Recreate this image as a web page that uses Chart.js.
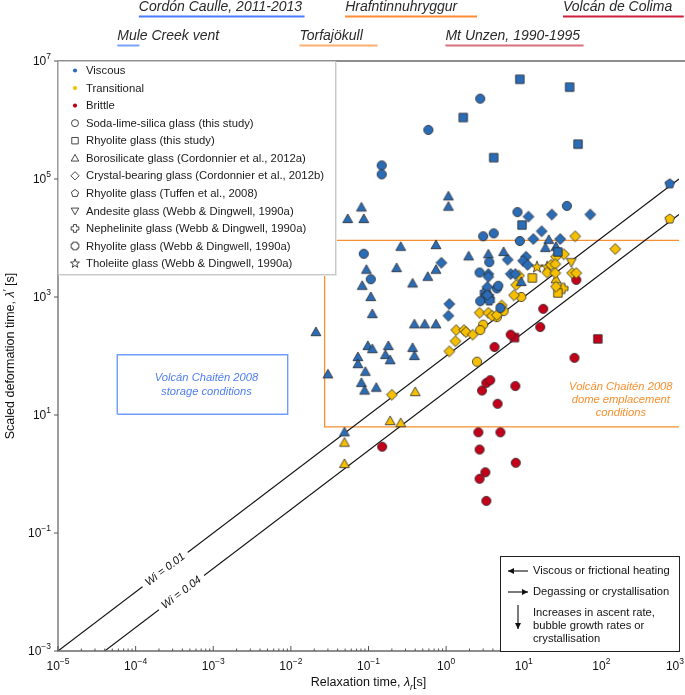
<!DOCTYPE html>
<html>
<head>
<meta charset="utf-8">
<script src="https://cdn.jsdelivr.net/npm/chart.js@4.4.0/dist/chart.umd.min.js"></script>
<style>
  body { margin: 0; background: #fff; }
  canvas { display: block; }
</style>
</head>
<body>
<canvas id="wiChart" width="685" height="695"></canvas>
<script>
// --- DATI (lambda_r [s], lambda' [s]) ---
const xTicks = [1e-5, 1e-4, 1e-3, 1e-2, 1e-1, 1, 10, 100, 1000];
const yTicks = [1e-3, 1e-1, 1e1, 1e3, 1e5, 1e7];

const viscousCircles = [[2.75,2.3e6],[0.59,6.8e5],[0.148,1.7e5],[0.148,1.2e5],[8.3,2.75e4],[36,3.5e4],[3.0,1.07e4],[4.1,1.2e4],[8.9,8.9e3],[0.087,5.4e3],[3.6,3.9e3],[0.107,2.0e3],[2.7,2.6e3],[4.5,1.4e3],[4.7,1.55e3],[2.75,850],[5.0,650]];
const viscousSquares = [[8.9,4.9e6],[39,3.6e6],[1.66,1.1e6],[50,3.9e5],[4.1,2.3e5],[9.5,1.66e4],[27.5,5.8e3]];
const viscousTriangles = [[1.07,5.1e4],[1.07,3.4e4],[0.081,3.3e4],[0.054,2.1e4],[0.087,2.1e4],[21,9.3e3],[0.26,7.1e3],[0.74,7.6e3],[19,6.8e3],[26,7.1e3],[1.95,4.9e3],[3.5,5.3e3],[5.5,5.8e3],[0.094,2.9e3],[0.23,3.1e3],[0.37,1.7e3],[0.58,2.2e3],[0.74,2.9e3],[0.083,1.55e3],[0.107,1.0e3],[9.3,1.8e3],[0.112,515],[0.021,255],[0.74,345],[0.39,345],[0.53,345],[0.098,148],[0.112,131],[0.18,148],[0.37,137],[0.073,96],[0.073,73],[0.165,104],[0.39,100],[0.19,85],[0.091,54],[0.03,49],[0.081,35],[0.089,26],[0.126,29],[0.049,5.1]];
const viscousDiamonds = [[11.5,2.3e4],[23,2.5e4],[72,2.5e4],[17,1.3e4],[13.3,9.6e3],[29.5,9.6e3],[0.87,3.8e3],[6.2,4.3e3],[10.7,4.8e3],[9.8,4.1e3],[11.2,3.5e3],[3.5,2.45e3],[3.5,2.2e3],[6.8,2.45e3],[7.8,2.45e3],[3.4,1.48e3],[3.4,1.08e3],[1.1,760],[1.07,480]];
const viscousWebbRhyolite = [[3.2,1.17e3],[3.5,1.0e3],[3.3,1.0e3],[3.6,890]];
const viscousTuffen = [[760,8.3e4]];

const transDiamonds = [[46,1.07e4],[151,6.5e3],[26,4.8e3],[33,5.3e3],[22.5,3.5e3],[25.5,3.6e3],[20,2.6e3],[25.5,2.55e3],[42,2.55e3],[47.5,2.55e3],[8.7,2.3e3],[8.0,1.6e3],[26,1.5e3],[7.5,1.07e3],[5.2,720],[2.7,540],[3.5,540],[3.9,480],[4.5,495],[1.35,275],[1.7,275],[1.8,255],[2.2,230],[1.32,178],[1.1,120],[0.2,22]];
const transCircles = [[9.3,1.0e3],[5.5,575],[4.5,455],[3.0,340],[2.75,275],[2.5,80]];
const transSquares = [[12.9,2.1e3],[27.5,1.17e3]];
const transTriangles = [[26,2.0e3],[0.40,24.5],[0.19,7.9],[0.26,7.3],[0.049,3.4],[0.049,1.48]];
const transAndesite = [[41,3.9e3]];
const transNephelinite = [[32,1.4e3]];
const transTholeiite = [[14.8,3.2e3],[20,3.2e3]];
const transTuffen = [[760,2.1e4]];

const brittleCircles = [[47.5,1.95e3],[17.8,630],[16.3,310],[6.8,230],[4.2,142],[45,93],[2.9,26],[3.3,35],[3.7,39],[7.8,31],[4.6,15.5],[0.15,2.9],[2.6,5.1],[5.0,5.1],[2.7,2.6],[7.9,1.55],[3.2,1.07],[2.7,0.83],[3.3,0.35]];
const brittleSquares = [[7.6,205],[90,195]];

// Weissenberg lines and boxes
const wiValues = [0.01, 0.04];
const wiLabelAt = [2.4e-4, 3.9e-4];
const storageX = [5.8e-5, 9.1e-3];
const storageY = [10.3, 105];
const domeX = [0.0272, 1e3];
const domeY = [6.3, 9.1e3];

// volcano header ranges
const siteNames = ['Cordón Caulle, 2011-2013', 'Hrafntinnuhryggur', 'Volcán de Colima', 'Mule Creek vent', 'Torfajökull', 'Mt Unzen, 1990-1995'];
const siteStart = [1.1e-4, 0.050, 32, 5.8e-5, 0.0129, 0.98];
const siteEnd = [1.5e-2, 2.5, 1150, 1.12e-4, 0.131, 59];
const siteRow = [0, 0, 0, 1, 1, 1];
const siteColors = ['#4a7cff', '#ff8b35', '#cf1f3e', '#7ba2ff', '#ffb070', '#d8717d'];

const regimeLabels = ['Viscous', 'Transitional', 'Brittle'];
const regimeColors = ['#2b6cb7', '#f6c000', '#c3001a'];
const glassLabels = ['Soda-lime-silica glass (this study)', 'Rhyolite glass (this study)', 'Borosilicate glass (Cordonnier et al., 2012a)', 'Crystal-bearing glass (Cordonnier et al., 2012b)', 'Rhyolite glass (Tuffen et al., 2008)', 'Andesite glass (Webb & Dingwell, 1990a)', 'Nephelinite glass (Webb & Dingwell, 1990a)', 'Rhyolite glass (Webb & Dingwell, 1990a)', 'Tholeiite glass (Webb & Dingwell, 1990a)'];
const glassShapes = ['circle', 'square', 'triangle', 'diamond', 'pentagon', 'triangleDown', 'plus', 'quatrefoil', 'star'];

const FONT = '"Liberation Sans", Arial, Helvetica, sans-serif';

// --- MARKER ---
function shapePath(g, shape, cx, cy, s){
    g.beginPath();
    if(shape === 'circle'){ g.arc(cx, cy, s, 0, Math.PI*2); }
    else if(shape === 'square'){ g.rect(cx - s*0.92, cy - s*0.92, s*1.84, s*1.84); }
    else if(shape === 'triangle'){ g.moveTo(cx, cy - s*1.1); g.lineTo(cx + s*1.08, cy + s*0.8); g.lineTo(cx - s*1.08, cy + s*0.8); g.closePath(); }
    else if(shape === 'triangleDown'){ g.moveTo(cx, cy + s*1.1); g.lineTo(cx + s*1.08, cy - s*0.8); g.lineTo(cx - s*1.08, cy - s*0.8); g.closePath(); }
    else if(shape === 'diamond'){ const d = s*1.18; g.moveTo(cx, cy - d); g.lineTo(cx + d, cy); g.lineTo(cx, cy + d); g.lineTo(cx - d, cy); g.closePath(); }
    else if(shape === 'pentagon'){
        for(let k=0;k<5;k++){ const a = -Math.PI/2 + k*2*Math.PI/5; const px = cx + s*1.1*Math.cos(a), py = cy + s*1.1*Math.sin(a); k ? g.lineTo(px,py) : g.moveTo(px,py); }
        g.closePath();
    }
    else if(shape === 'star'){
        for(let k=0;k<10;k++){ const a = -Math.PI/2 + k*Math.PI/5; const r = k%2 ? s*0.55 : s*1.35; const px = cx + r*Math.cos(a), py = cy + r*Math.sin(a); k ? g.lineTo(px,py) : g.moveTo(px,py); }
        g.closePath();
    }
    else if(shape === 'plus' || shape === 'quatrefoil'){
        const w = shape === 'plus' ? s*0.45 : s*0.62, l = s*1.1;
        const pts = [[-w,-l],[w,-l],[w,-w],[l,-w],[l,w],[w,w],[w,l],[-w,l],[-w,w],[-l,w],[-l,-w],[-w,-w]];
        pts.forEach((p,k) => k ? g.lineTo(cx+p[0], cy+p[1]) : g.moveTo(cx+p[0], cy+p[1]));
        g.closePath();
    }
}

function markerCanvas(shape, fill){
    const c = document.createElement('canvas');
    c.width = 16; c.height = 16;
    const g = c.getContext('2d');
    shapePath(g, shape, 8, 8, 4.6);
    g.fillStyle = fill; g.fill();
    g.lineWidth = 0.8; g.strokeStyle = '#2a2a2a'; g.stroke();
    return c;
}

const pointSets = [
    [0,'circle',viscousCircles],[0,'square',viscousSquares],[0,'triangle',viscousTriangles],[0,'diamond',viscousDiamonds],
    [0,'quatrefoil',viscousWebbRhyolite],[0,'pentagon',viscousTuffen],
    [1,'diamond',transDiamonds],[1,'circle',transCircles],[1,'square',transSquares],[1,'triangle',transTriangles],
    [1,'triangleDown',transAndesite],[1,'plus',transNephelinite],[1,'star',transTholeiite],[1,'pentagon',transTuffen],
    [2,'circle',brittleCircles],[2,'square',brittleSquares]
];

const datasets = pointSets.map(([r, shape, pts]) => ({
    type: 'scatter',
    data: pts.map(p => ({x: p[0], y: p[1]})),
    pointStyle: markerCanvas(shape, regimeColors[r]),
    pointRadius: 5,
    order: 1
}));

// linee Wi: lambda' = lambda_r / Wi
wiValues.forEach(wi => {
    datasets.push({
        type: 'line',
        data: [{x: 1e-3*wi, y: 1e-3}, {x: 1e3, y: 1e3/wi}],
        borderColor: '#111', borderWidth: 1.1, pointRadius: 0, order: 5
    });
});
datasets.push({
    type: 'line',
    data: [{x: domeX[1], y: domeY[0]}, {x: domeX[0], y: domeY[0]}, {x: domeX[0], y: domeY[1]}, {x: domeX[1], y: domeY[1]}],
    borderColor: '#f7902f', borderWidth: 1.3, pointRadius: 0, order: 6
});
datasets.push({
    type: 'line',
    data: [{x: storageX[0], y: storageY[0]}, {x: storageX[1], y: storageY[0]}, {x: storageX[1], y: storageY[1]}, {x: storageX[0], y: storageY[1]}, {x: storageX[0], y: storageY[0]}],
    borderColor: '#6f9cff', borderWidth: 1.4, pointRadius: 0, order: 6
});

// --- testo con esponente ---
function powLabel(ctx, exp, x, y, align){
    const base = '10', sup = String(exp).replace('-', '\u2212');
    ctx.font = '12px ' + FONT;
    const wb = ctx.measureText(base).width;
    ctx.font = '8.5px ' + FONT;
    const ws = ctx.measureText(sup).width;
    let x0 = align === 'right' ? x - wb - ws : x - (wb + ws)/2;
    x0 = Math.min(x0, 684 - wb - ws); // l'ultima etichetta resta dentro la tela
    ctx.textAlign = 'left'; ctx.textBaseline = 'middle';
    ctx.font = '12px ' + FONT; ctx.fillText(base, x0, y);
    ctx.font = '8.5px ' + FONT; ctx.fillText(sup, x0 + wb, y - 5);
}

function pieces(ctx, parts, x, y, center){
    let w = 0;
    parts.forEach(p => { ctx.font = p.f; w += ctx.measureText(p.t).width; });
    let cx = center ? x - w/2 : x;
    parts.forEach(p => { ctx.font = p.f; ctx.fillText(p.t, cx, y + (p.dy || 0)); cx += ctx.measureText(p.t).width; });
}

const decor = {
    id: 'decor',
    afterDraw(chart){
        const {ctx, chartArea: a, scales: {x, y}} = chart;
        ctx.save();

        // cornice
        ctx.strokeStyle = '#6a6a6a'; ctx.lineWidth = 1.3;
        ctx.beginPath();
        ctx.moveTo(a.left, a.top); ctx.lineTo(chart.width, a.top);
        ctx.moveTo(a.left, a.top); ctx.lineTo(a.left, a.bottom); ctx.lineTo(a.right, a.bottom);
        ctx.stroke();

        // tacche asse x (interne) con minori
        ctx.lineWidth = 1; ctx.strokeStyle = '#555';
        ctx.beginPath();
        xTicks.forEach((v, i) => {
            const px = x.getPixelForValue(v);
            ctx.moveTo(px, a.bottom); ctx.lineTo(px, a.bottom - 5);
            if(i < xTicks.length - 1){
                for(let m=2;m<10;m++){ const mx = x.getPixelForValue(v*m); ctx.moveTo(mx, a.bottom); ctx.lineTo(mx, a.bottom - 2.5); }
            }
        });
        yTicks.forEach(v => { const py = y.getPixelForValue(v); ctx.moveTo(a.left, py); ctx.lineTo(a.left - 4, py); });
        ctx.stroke();

        ctx.fillStyle = '#111';
        xTicks.forEach(v => powLabel(ctx, Math.round(Math.log10(v)), x.getPixelForValue(v), a.bottom + 16, 'center'));
        yTicks.forEach(v => powLabel(ctx, Math.round(Math.log10(v)), a.left - 7, y.getPixelForValue(v) + 1, 'right'));

        // titoli assi
        ctx.textBaseline = 'middle'; ctx.textAlign = 'left';
        pieces(ctx, [
            {t: 'Relaxation time, ', f: '12.5px ' + FONT},
            {t: 'λ', f: 'italic 12.5px ' + FONT},
            {t: 'r', f: 'italic 9px ' + FONT, dy: 4},
            {t: '[s]', f: '12.5px ' + FONT}
        ], (a.left + a.right)/2, 683, true);
        ctx.save();
        ctx.translate(11, (a.top + a.bottom)/2); ctx.rotate(-Math.PI/2);
        pieces(ctx, [
            {t: 'Scaled deformation time, ', f: '12.5px ' + FONT},
            {t: 'λ', f: 'italic 12.5px ' + FONT},
            {t: '′', f: '10px ' + FONT, dy: -3},
            {t: ' [s]', f: '12.5px ' + FONT}
        ], 0, 0, true);
        ctx.restore();

        // etichette Wi
        wiValues.forEach((wi, i) => {
            const lx = wiLabelAt[i], ly = lx / wi;
            const px = x.getPixelForValue(lx), py = y.getPixelForValue(ly);
            const ang = Math.atan2(y.getPixelForValue(ly*10) - py, x.getPixelForValue(lx*10) - px);
            ctx.save(); ctx.translate(px, py); ctx.rotate(ang);
            ctx.font = 'italic 11px ' + FONT;
            const txt = 'Wi = ' + wi.toFixed(2);
            const w = ctx.measureText(txt).width;
            ctx.fillStyle = '#fff'; ctx.fillRect(-w/2 - 5, -4, w + 10, 8);
            ctx.fillStyle = '#111'; ctx.textAlign = 'center'; ctx.textBaseline = 'middle';
            ctx.fillText(txt, 0, 0);
            ctx.restore();
        });

        // testi dei riquadri Chaitén
        ctx.textAlign = 'center'; ctx.textBaseline = 'middle';
        ctx.font = 'italic 11.2px ' + FONT;
        ctx.fillStyle = '#4f7ff0';
        const sx = x.getPixelForValue(Math.sqrt(storageX[0]*storageX[1]));
        const sy = y.getPixelForValue(Math.sqrt(storageY[0]*storageY[1]));
        ctx.fillText('Volcán Chaitén 2008', sx + 4, sy - 7);
        ctx.fillText('storage conditions', sx + 4, sy + 7);
        ctx.fillStyle = '#f7902f';
        const dx = x.getPixelForValue(178), dy = y.getPixelForValue(17.8);
        ctx.fillText('Volcán Chaitén 2008', dx, dy - 13);
        ctx.fillText('dome emplacement', dx, dy);
        ctx.fillText('conditions', dx, dy + 13);

        // legenda
        const lgL = a.left, lgT = a.top, lgR = 335, lgB = 274;
        ctx.fillStyle = '#e6e6e6'; ctx.fillRect(lgL + 2, lgT + 2, lgR - lgL, lgB - lgT);
        ctx.fillStyle = '#fff'; ctx.fillRect(lgL, lgT, lgR - lgL, lgB - lgT);
        ctx.strokeStyle = '#c9c9c9'; ctx.lineWidth = 1;
        ctx.strokeRect(lgL + 0.5, lgT + 0.5, lgR - lgL, lgB - lgT);
        ctx.textAlign = 'left'; ctx.textBaseline = 'middle';
        ctx.font = '11.3px ' + FONT;
        const rowH = 17.55;
        regimeLabels.forEach((lab, i) => {
            const ry = lgT + 9.5 + i*rowH;
            ctx.beginPath(); ctx.arc(75, ry, 2.1, 0, Math.PI*2); ctx.fillStyle = regimeColors[i]; ctx.fill();
            ctx.fillStyle = '#1a1a1a'; ctx.fillText(lab, 86, ry + 0.5);
        });
        glassLabels.forEach((lab, i) => {
            const ry = lgT + 9.5 + (i + 3)*rowH;
            shapePath(ctx, glassShapes[i], 75, ry, 3.5);
            ctx.fillStyle = '#fff'; ctx.fill();
            ctx.strokeStyle = '#333'; ctx.lineWidth = 0.9; ctx.stroke();
            ctx.fillStyle = '#1a1a1a'; ctx.fillText(lab, 86, ry + 0.5);
        });

        // riquadro frecce in basso a destra
        const bL = 500, bT = 556;
        ctx.fillStyle = '#fff'; ctx.fillRect(bL, bT, a.right - bL, a.bottom - bT);
        ctx.strokeStyle = '#222'; ctx.lineWidth = 1;
        ctx.strokeRect(bL + 0.5, bT + 0.5, a.right - bL, a.bottom - bT);
        ctx.fillStyle = '#111';
        const arrow = (x1, y1, x2, y2) => {
            ctx.beginPath(); ctx.moveTo(x1, y1); ctx.lineTo(x2, y2); ctx.stroke();
            const an = Math.atan2(y2 - y1, x2 - x1);
            ctx.beginPath();
            ctx.moveTo(x2, y2);
            ctx.lineTo(x2 - 6*Math.cos(an) + 3*Math.sin(an), y2 - 6*Math.sin(an) - 3*Math.cos(an));
            ctx.lineTo(x2 - 6*Math.cos(an) - 3*Math.sin(an), y2 - 6*Math.sin(an) + 3*Math.cos(an));
            ctx.closePath(); ctx.fill();
        };
        ctx.lineWidth = 1.2;
        arrow(528, 571, 508, 571);
        arrow(508, 592, 528, 592);
        arrow(518, 605, 518, 629);
        ctx.font = '11.2px ' + FONT;
        ctx.fillText('Viscous or frictional heating', 533, 571);
        ctx.fillText('Degassing or crystallisation', 533, 592);
        ctx.fillText('Increases in ascent rate,', 533, 613);
        ctx.fillText('bubble growth rates or', 533, 626);
        ctx.fillText('crystallisation', 533, 639);

        // intestazione vulcani
        ctx.font = 'italic 14px ' + FONT;
        ctx.textBaseline = 'middle';
        siteNames.forEach((name, i) => {
            const x0 = x.getPixelForValue(siteStart[i]), x1 = x.getPixelForValue(siteEnd[i]);
            const ty = siteRow[i] ? 36 : 7.5, uy = siteRow[i] ? 45.5 : 16.5;
            ctx.fillStyle = '#2a2a2a'; ctx.fillText(name, x0, ty);
            ctx.strokeStyle = siteColors[i]; ctx.lineWidth = 2;
            ctx.beginPath(); ctx.moveTo(x0, uy); ctx.lineTo(x1, uy); ctx.stroke();
        });

        ctx.restore();
    }
};

new Chart(document.getElementById('wiChart'), {
    type: 'scatter',
    data: { datasets },
    options: {
        responsive: false,
        animation: false,
        events: [],
        layout: { padding: { top: 61, left: 0, right: 4, bottom: 0 } },
        plugins: { legend: { display: false }, tooltip: { enabled: false } },
        scales: {
            x: {
                type: 'logarithmic', min: 1e-5, max: 1e3,
                grid: { display: false }, border: { display: false },
                ticks: { display: false },
                afterFit: s => { s.height = 44; }
            },
            y: {
                type: 'logarithmic', min: 1e-3, max: 1e7,
                grid: { display: false }, border: { display: false },
                ticks: { display: false },
                afterFit: s => { s.width = 58; }
            }
        }
    },
    plugins: [decor]
});
</script>
</body>
</html>
